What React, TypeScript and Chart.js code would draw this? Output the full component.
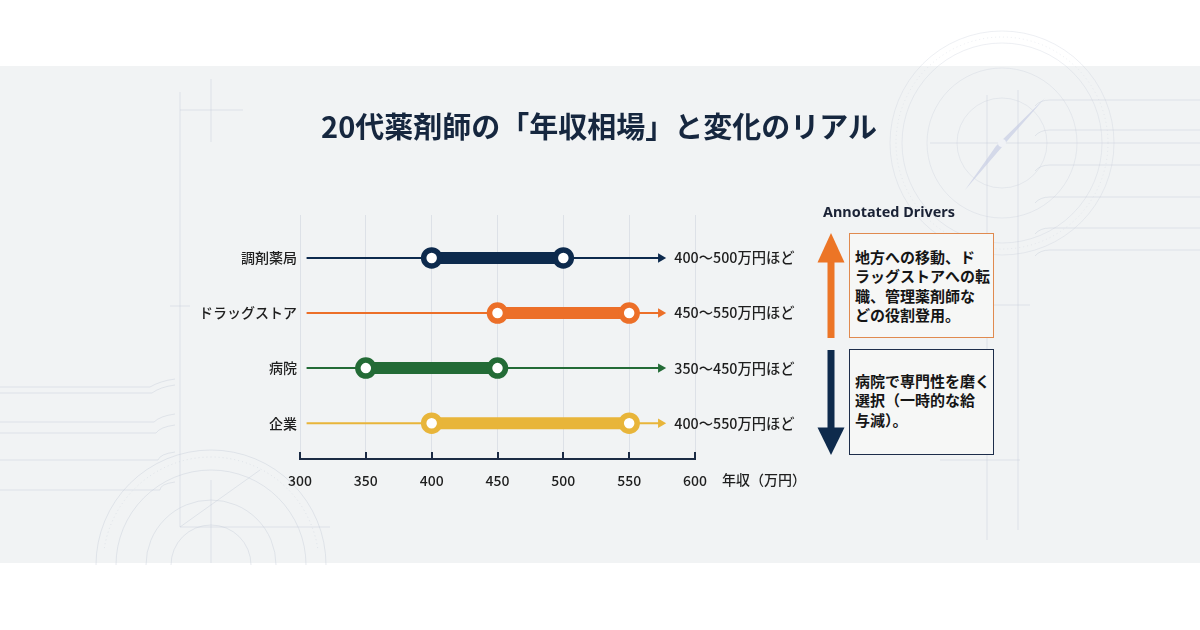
import React, { useEffect, useRef } from "react";
import { Chart, registerables } from "chart.js";

Chart.register(...registerables);

// Salary ranges for pharmacists in their 20s, by workplace (万円)
const categories = ["調剤薬局", "ドラッグストア", "病院", "企業"];
const lowValues = [400, 450, 350, 400];
const highValues = [500, 550, 450, 550];
// Thin guide track behind each range, ending in an arrow
const trackStart = 305;
const trackEnd = 574;
const axisMin = 300;
const axisMax = 600;
const axisStep = 50;
const axisUnitLabel = "年収（万円）";

const palette = ["#0d2a4d", "#ec6f28", "#236b36", "#e8b53a"];
const FONT = '"Noto Sans CJK JP", "Noto Sans", sans-serif';

const driversTitle = "Annotated Drivers";
const upDriverLines = ["地方への移動、ド", "ラッグストアへの転", "職、管理薬剤師な", "どの役割登用。"];
const downDriverLines = ["病院で専門性を磨く", "選択（一時的な給", "与減）。"];

function drawBlueprint(ctx: CanvasRenderingContext2D) {
  ctx.save();
  ctx.fillStyle = "#ffffff";
  ctx.fillRect(0, 0, 1200, 630);
  ctx.fillStyle = "#f1f3f4";
  ctx.fillRect(0, 66, 1200, 497);

  ctx.strokeStyle = "rgba(195,202,214,0.4)";
  ctx.lineWidth = 1;
  const line = (x1: number, y1: number, x2: number, y2: number) => {
    ctx.beginPath();
    ctx.moveTo(x1, y1);
    ctx.lineTo(x2, y2);
    ctx.stroke();
  };
  // left frame and crosshair
  line(180, 92, 180, 527);
  line(180, 527, 330, 527);
  line(211, 79, 211, 142);
  line(180, 110, 243, 110);
  line(170, 306, 190, 306);
  line(211, 480, 211, 563);
  // left horizontal rails bending upward
  const rails = [387, 393, 422, 433, 460, 490];
  rails.forEach((y, i) => {
    ctx.beginPath();
    ctx.moveTo(0, y);
    ctx.lineTo(150 + i * 2, y);
    ctx.quadraticCurveTo(160, y - 6, 175, y - 8);
    ctx.stroke();
  });
  // protractor arcs bottom-left
  [40, 65, 95, 115].forEach((r) => {
    ctx.beginPath();
    ctx.arc(211, 565, r, Math.PI, Math.PI * 2);
    ctx.stroke();
  });
  ctx.setLineDash([1, 3]);
  ctx.beginPath();
  ctx.arc(211, 565, 108, Math.PI * 1.05, Math.PI * 1.95);
  ctx.stroke();
  ctx.setLineDash([]);
  line(180, 527, 260, 470);

  // compass top-right
  ctx.strokeStyle = "rgba(195,202,214,0.3)";
  [45, 75, 100, 112].forEach((r) => {
    ctx.beginPath();
    ctx.arc(1002, 143, r, 0, Math.PI * 2);
    ctx.stroke();
  });
  ctx.setLineDash([1, 3]);
  ctx.beginPath();
  ctx.arc(1002, 143, 106, 0, Math.PI * 2);
  ctx.stroke();
  ctx.setLineDash([]);
  ctx.strokeStyle = "rgba(195,202,214,0.4)";
  line(987, 95, 987, 540);
  line(1018, 90, 1018, 530);
  line(930, 143, 1200, 143);
  line(940, 460, 1020, 460);
  line(900, 305, 1030, 305);
  [100, 130, 165, 197, 228, 250].forEach((y) => {
    ctx.beginPath();
    ctx.moveTo(1200, y);
    ctx.lineTo(1050, y);
    ctx.quadraticCurveTo(1040, y, 1035, y + 6);
    ctx.stroke();
  });
  ctx.fillStyle = "rgba(200,205,228,0.7)";
  ctx.beginPath();
  ctx.moveTo(1045, 98);
  ctx.lineTo(1008, 140);
  ctx.lineTo(965, 190);
  ctx.lineTo(996, 146);
  ctx.closePath();
  ctx.fill();
  ctx.fillStyle = "rgba(240,242,246,1)";
  ctx.beginPath();
  ctx.arc(1002, 143, 4, 0, Math.PI * 2);
  ctx.fill();
  ctx.restore();
}

function drawArrow(ctx: CanvasRenderingContext2D, x: number, tipY: number, headY: number, tailY: number, color: string) {
  ctx.save();
  ctx.fillStyle = color;
  const dir = headY > tipY ? 1 : -1;
  ctx.fillRect(x - 3.5, Math.min(headY, tailY), 7, Math.abs(tailY - headY));
  ctx.beginPath();
  ctx.moveTo(x, tipY);
  ctx.lineTo(x + 13.5, headY + dir * 0.5);
  ctx.lineTo(x - 13.5, headY + dir * 0.5);
  ctx.closePath();
  ctx.fill();
  ctx.restore();
}

const backdropPlugin = {
  id: "backdrop",
  beforeDraw(chart: any) {
    drawBlueprint(chart.ctx);
  },
};

const overlayPlugin = {
  id: "overlay",
  afterDraw(chart: any) {
    const ctx: CanvasRenderingContext2D = chart.ctx;
    const xScale = chart.scales.x;
    const area = chart.chartArea;
    ctx.save();
    // inward tick marks on the value axis
    ctx.strokeStyle = "#1b2b44";
    ctx.lineWidth = 2;
    xScale.ticks.forEach((t: any) => {
      const px = Math.round(xScale.getPixelForValue(t.value));
      ctx.beginPath();
      ctx.moveTo(px, area.bottom - 7);
      ctx.lineTo(px, area.bottom);
      ctx.stroke();
    });
    // axis unit label
    ctx.fillStyle = "#1e1e1e";
    ctx.font = `500 14px ${FONT}`;
    ctx.textBaseline = "middle";
    ctx.textAlign = "left";
    ctx.fillText(axisUnitLabel, area.right + 27, 480);
    // range labels next to each arrow tip
    ctx.font = `500 14.3px ${FONT}`;
    categories.forEach((_, i) => {
      const meta = chart.getDatasetMeta(i * 2);
      const tip = meta.data[meta.data.length - 1];
      ctx.fillText(`${lowValues[i]}〜${highValues[i]}万円ほど`, tip.x + 13.5, tip.y);
    });
    // driver arrows
    drawArrow(ctx, 831, 233, 262, 338, "#ec7526");
    drawArrow(ctx, 831, 455, 428, 350, "#0e2a4c");
    ctx.restore();
  },
};

export default function App() {
  const canvasRef = useRef<HTMLCanvasElement | null>(null);

  useEffect(() => {
    if (!canvasRef.current) return;
    const datasets: any[] = [];
    categories.forEach((_, i) => {
      datasets.push({
        label: `${categories[i]} track`,
        data: [
          { x: trackStart, y: i },
          { x: trackEnd, y: i },
        ],
        showLine: true,
        borderColor: palette[i],
        backgroundColor: palette[i],
        borderWidth: 2,
        pointRadius: [0, 5.4],
        pointStyle: "triangle",
        pointRotation: 90,
        pointBorderWidth: 0,
        pointBackgroundColor: palette[i],
        order: 2,
      });
      datasets.push({
        label: categories[i],
        data: [
          { x: lowValues[i], y: i },
          { x: highValues[i], y: i },
        ],
        showLine: true,
        borderColor: palette[i],
        borderWidth: 12,
        pointRadius: 8,
        pointBorderWidth: 5.5,
        pointBorderColor: palette[i],
        pointBackgroundColor: "#ffffff",
        order: 1,
      });
    });

    const chart = new Chart(canvasRef.current, {
      type: "scatter",
      data: { datasets },
      plugins: [backdropPlugin, overlayPlugin],
      options: {
        responsive: false,
        animation: false,
        events: [],
        layout: { padding: { top: 215, right: 505, left: 0, bottom: 0 } },
        plugins: {
          legend: { display: false },
          tooltip: { enabled: false },
        },
        scales: {
          x: {
            type: "linear",
            min: axisMin,
            max: axisMax,
            afterFit(scale: any) {
              scale.height = 171;
            },
            ticks: {
              stepSize: axisStep,
              padding: 13,
              color: "#1e1e1e",
              font: { family: FONT, size: 14, weight: "500" },
            },
            grid: { color: "#dde1e7", lineWidth: 1, drawTicks: false },
            border: { display: true, color: "#1b2b44", width: 2 },
          },
          y: {
            type: "linear",
            reverse: true,
            min: -0.78,
            max: 3.65,
            afterFit(scale: any) {
              scale.width = 300;
            },
            afterBuildTicks(scale: any) {
              scale.ticks = categories.map((_, i) => ({ value: i }));
            },
            ticks: {
              padding: 3,
              color: "#1e1e1e",
              font: { family: FONT, size: 14, weight: "500" },
              callback: (v: any) => categories[v] ?? "",
            },
            grid: { display: false, drawTicks: false },
            border: { display: false },
          },
        },
      },
    } as any);
    return () => chart.destroy();
  }, []);

  const boxText: React.CSSProperties = {
    position: "absolute",
    left: 849,
    width: 145,
    boxSizing: "border-box",
    background: "#f6f7f6",
    fontFamily: FONT,
    fontWeight: 700,
    fontSize: 15,
    lineHeight: "19.4px",
    color: "#151515",
    paddingLeft: 5,
    whiteSpace: "nowrap",
  };

  return (
    <div style={{ position: "absolute", left: 0, top: 0, width: 1200, height: 630, overflow: "hidden", background: "#fff" }}>
      <canvas ref={canvasRef} width={1200} height={630} style={{ position: "absolute", left: 0, top: 0, width: 1200, height: 630 }} />
      <div
        style={{
          position: "absolute",
          left: 0,
          top: 105,
          width: 1198,
          textAlign: "center",
          fontFamily: FONT,
          fontWeight: 700,
          fontSize: 29,
          lineHeight: "40px",
          color: "#16273f",
        }}
      >
        20代薬剤師の「年収相場」と変化のリアル
      </div>
      <div
        style={{
          position: "absolute",
          left: 823,
          top: 202,
          fontFamily: '"Noto Sans", "Open Sans", sans-serif',
          fontWeight: 700,
          fontSize: 14.4,
          lineHeight: "20px",
          color: "#1a2235",
        }}
      >
        {driversTitle}
      </div>
      <div style={{ ...boxText, top: 233, height: 105, border: "1.5px solid #e08a4f", paddingTop: 13 }}>
        {upDriverLines.map((t) => (
          <div key={t}>{t}</div>
        ))}
      </div>
      <div style={{ ...boxText, top: 349, height: 106, border: "1.5px solid #1d2d4a", paddingTop: 21 }}>
        {downDriverLines.map((t) => (
          <div key={t}>{t}</div>
        ))}
      </div>
    </div>
  );
}
